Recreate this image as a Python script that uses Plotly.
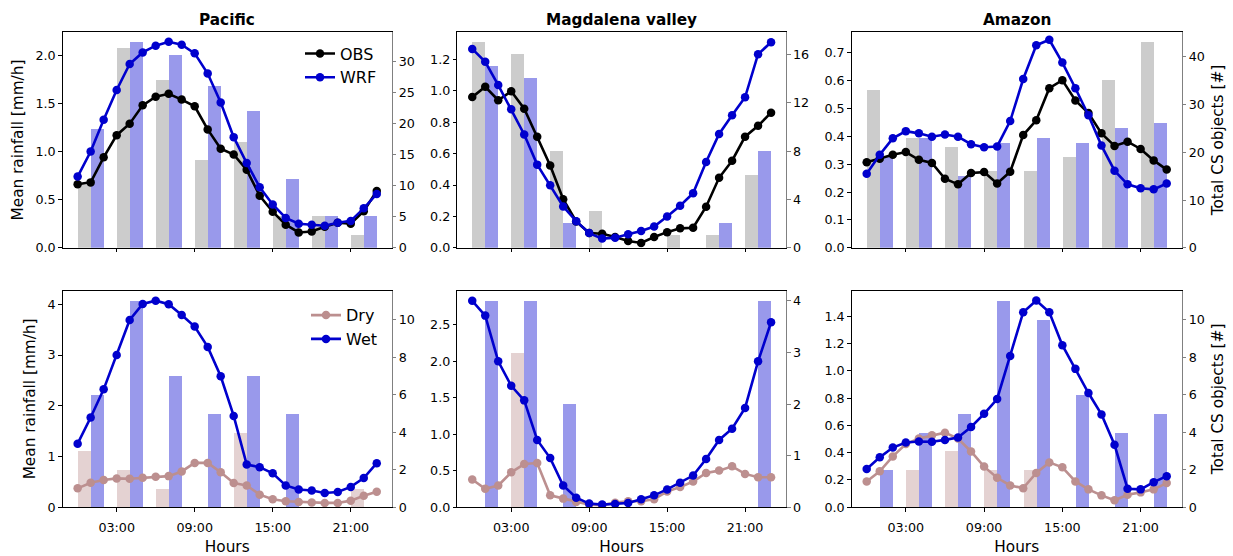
import plotly.graph_objects as go

hours = list(range(24))
bar_hours = [0, 3, 6, 9, 12, 15, 18, 21]
tick_hours = [3, 9, 15, 21]
tick_labels = ["03:00", "09:00", "15:00", "21:00"]
titles = ["Pacific", "Magdalena valley", "Amazon"]

# Top row: OBS / WRF mean rainfall [mm/h]
pac_obs = [0.66, 0.68, 0.94, 1.17, 1.29, 1.48, 1.57, 1.60, 1.54, 1.47, 1.23, 1.03,
           0.97, 0.81, 0.54, 0.375, 0.24, 0.16, 0.17, 0.22, 0.26, 0.25, 0.38, 0.59]
pac_wrf = [0.74, 1.00, 1.33, 1.64, 1.91, 2.03, 2.10, 2.14, 2.11, 2.02, 1.81, 1.51,
           1.15, 0.88, 0.63, 0.45, 0.31, 0.25, 0.24, 0.23, 0.26, 0.28, 0.41, 0.56]
mag_obs = [0.96, 1.026, 0.94, 0.997, 0.886, 0.708, 0.524, 0.31, 0.168, 0.094, 0.09, 0.069,
           0.044, 0.031, 0.069, 0.10, 0.124, 0.128, 0.262, 0.446, 0.555, 0.708, 0.777, 0.861]
mag_wrf = [1.267, 1.185, 1.037, 0.882, 0.722, 0.53, 0.398, 0.264, 0.17, 0.094, 0.059, 0.065,
           0.086, 0.107, 0.136, 0.199, 0.268, 0.348, 0.547, 0.725, 0.844, 0.959, 1.233, 1.309]
ama_obs = [0.307, 0.32, 0.334, 0.344, 0.316, 0.305, 0.248, 0.228, 0.269, 0.272, 0.231, 0.273,
           0.405, 0.458, 0.573, 0.602, 0.529, 0.484, 0.411, 0.366, 0.381, 0.355, 0.314, 0.281]
ama_wrf = [0.266, 0.334, 0.393, 0.419, 0.411, 0.399, 0.407, 0.399, 0.372, 0.361, 0.364, 0.455,
           0.606, 0.727, 0.747, 0.665, 0.573, 0.476, 0.367, 0.277, 0.228, 0.214, 0.21, 0.231]

# Bottom row: Dry / Wet mean rainfall [mm/h]
pac_dry = [0.372, 0.483, 0.535, 0.568, 0.561, 0.581, 0.600, 0.613, 0.705, 0.874, 0.874, 0.69,
           0.476, 0.43, 0.248, 0.157, 0.117, 0.104, 0.091, 0.085, 0.085, 0.13, 0.228, 0.307]
pac_wet = [1.253, 1.768, 2.323, 3.0, 3.69, 4.006, 4.07, 4.0, 3.79, 3.56, 3.16, 2.58,
           1.80, 0.84, 0.79, 0.67, 0.43, 0.35, 0.33, 0.28, 0.30, 0.40, 0.574, 0.868]
mag_dry = [0.38, 0.253, 0.298, 0.479, 0.592, 0.606, 0.163, 0.118, 0.072, 0.036, 0.027, 0.063,
           0.081, 0.081, 0.108, 0.217, 0.276, 0.353, 0.47, 0.502, 0.561, 0.457, 0.411, 0.411]
mag_wet = [2.83, 2.627, 2.0, 1.664, 1.465, 0.922, 0.674, 0.298, 0.131, 0.05, 0.036, 0.045,
           0.059, 0.108, 0.163, 0.244, 0.335, 0.434, 0.66, 0.922, 1.076, 1.361, 2.0, 2.536]
ama_dry = [0.189, 0.264, 0.373, 0.463, 0.504, 0.528, 0.547, 0.504, 0.409, 0.298, 0.216, 0.16,
           0.14, 0.252, 0.329, 0.293, 0.189, 0.131, 0.087, 0.051, 0.092, 0.109, 0.131, 0.177]
ama_wet = [0.281, 0.366, 0.438, 0.475, 0.482, 0.48, 0.494, 0.511, 0.589, 0.685, 0.794, 1.109,
           1.431, 1.516, 1.431, 1.189, 1.015, 0.838, 0.681, 0.458, 0.136, 0.131, 0.184, 0.228]

# Total CS objects [#] (3-hourly bars)
pac_obs_n = [10, 32, 27, 14, 17, 5, 5, 2]
pac_wrf_n = [19, 33, 31, 26, 22, 11, 5, 5]
mag_obs_n = [17, 16, 8, 3, 0, 1, 1, 6]
mag_wrf_n = [15, 14, 2, 0, 0, 0, 2, 8]
ama_obs_n = [33, 23, 21, 16, 16, 19, 35, 43]
ama_wrf_n = [19, 23, 15, 22, 23, 22, 25, 26]
pac_dry_n = [3, 2, 1, 0, 4, 0, 0, 1]
pac_wet_n = [6, 11, 7, 5, 7, 5, 0, 0]
mag_dry_n = [0, 3, 0, 0, 0, 0, 0, 0]
mag_wet_n = [4, 4, 2, 0, 0, 0, 0, 4]
ama_dry_n = [0, 2, 3, 2, 2, 0, 0, 0]
ama_wet_n = [2, 4, 5, 11, 10, 6, 4, 5]

W, H = 1233, 556
FONT = "DejaVu Sans"
BLUE = "#0000CD"
ROSY = "#BC8F8F"

col_dom = [[62.7 / W, 391.7 / W], [457.3 / W, 786.0 / W], [851.7 / W, 1181.7 / W]]
row_dom = [[1 - 251.0 / H, 1 - 32.7 / H], [1 - 513.7 / H, 1 - 294.3 / H]]

panels = [
    # row, col, lineA, lineB, barsA, barsB, names, colA, left dtick, left fmt, right dtick
    (0, 0, pac_obs, pac_wrf, pac_obs_n, pac_wrf_n, ("OBS", "WRF"), "black", 0.5, ".1f", 5),
    (0, 1, mag_obs, mag_wrf, mag_obs_n, mag_wrf_n, ("OBS", "WRF"), "black", 0.2, ".1f", 4),
    (0, 2, ama_obs, ama_wrf, ama_obs_n, ama_wrf_n, ("OBS", "WRF"), "black", 0.1, ".1f", 10),
    (1, 0, pac_dry, pac_wet, pac_dry_n, pac_wet_n, ("Dry", "Wet"), ROSY, 1, "d", 2),
    (1, 1, mag_dry, mag_wet, mag_dry_n, mag_wet_n, ("Dry", "Wet"), ROSY, 0.5, ".1f", 1),
    (1, 2, ama_dry, ama_wet, ama_dry_n, ama_wet_n, ("Dry", "Wet"), ROSY, 0.2, ".1f", 2),
]

bar_col_a = {"black": "rgba(128,128,128,0.4)", ROSY: "rgba(188,143,143,0.4)"}
bar_col_b = "rgba(0,0,205,0.4)"

fig = go.Figure()
layout = {}
tickfont = dict(family=FONT, size=12.7, color="black")
titlefont = dict(family=FONT, size=15.3, color="black")

for k, (r, c, la, lb, ba, bb, names, ca, ldt, lfmt, rdt) in enumerate(panels):
    i = k + 1
    j = k + 7
    xa = "x" if i == 1 else f"x{i}"
    yb = "y" if i == 1 else f"y{i}"
    yl = f"y{j}"
    # bars on right axis (base), lines on left axis (overlaying -> drawn on top)
    fig.add_trace(go.Bar(x=bar_hours, y=ba, width=1, offset=0, marker_color=bar_col_a[ca],
                         marker_line_width=0, showlegend=False, xaxis=xa, yaxis=yb))
    fig.add_trace(go.Bar(x=bar_hours, y=bb, width=1, offset=1, marker_color=bar_col_b,
                         marker_line_width=0, showlegend=False, xaxis=xa, yaxis=yb))
    leg = "legend" if r == 0 else "legend2"
    show = (c == 0)
    fig.add_trace(go.Scatter(x=hours, y=la, mode="lines+markers", name=names[0],
                             line=dict(color=ca, width=2.6), marker=dict(color=ca, size=8.5),
                             showlegend=show, legend=leg, xaxis=xa, yaxis=yl))
    fig.add_trace(go.Scatter(x=hours, y=lb, mode="lines+markers", name=names[1],
                             line=dict(color=BLUE, width=2.6), marker=dict(color=BLUE, size=8.5),
                             showlegend=show, legend=leg, xaxis=xa, yaxis=yl))

    lmax = max(max(la), max(lb))
    lmin = min(min(la), min(lb))
    ltop = lmax + 0.05 * (lmax - lmin)
    rtop = 1.05 * max(max(ba), max(bb))

    layout[f"xaxis{i}"] = dict(
        domain=col_dom[c], anchor=yb, range=[-1.15, 24.15],
        tickmode="array", tickvals=tick_hours, ticktext=tick_labels,
        showticklabels=(r == 1), ticks="outside", ticklen=3.5, tickwidth=1, tickcolor="black",
        ticklabelstandoff=5,
        showline=True, linecolor="black", linewidth=1, mirror=True,
        showgrid=False, zeroline=False, tickfont=tickfont,
        title=dict(text="Hours", font=titlefont, standoff=9) if r == 1 else None,
    )
    layout[f"yaxis{i}"] = dict(
        domain=row_dom[r], anchor=xa, side="right", range=[0, rtop],
        tick0=0, dtick=rdt, tickformat="d",
        ticks="outside", ticklen=3.5, tickwidth=1, tickcolor="#808080",
        showline=True, linecolor="#808080", linewidth=1,
        showgrid=False, zeroline=False, tickfont=tickfont,
        title=dict(text="Total CS objects [#]", font=titlefont, standoff=8) if c == 2 else None,
    )
    layout[f"yaxis{j}"] = dict(
        overlaying=yb, anchor=xa, side="left", range=[0, ltop],
        tick0=0, dtick=ldt, tickformat=lfmt,
        ticks="outside", ticklen=3.5, tickwidth=1, tickcolor="black",
        showline=True, linecolor="black", linewidth=1,
        showgrid=False, zeroline=False, tickfont=tickfont,
        title=dict(text="Mean rainfall [mm/h]", font=titlefont, standoff=8) if c == 0 else None,
    )

annotations = []
for c, t in enumerate(titles):
    annotations.append(dict(text=f"<b>{t}</b>", x=sum(col_dom[c]) / 2, y=1 - 20.0 / H,
                            xref="paper", yref="paper", xanchor="center", yanchor="middle",
                            showarrow=False, font=dict(family=FONT, size=15.3, color="black")))

fig.update_layout(
    width=W, height=H, margin=dict(l=0, r=0, t=0, b=0),
    paper_bgcolor="white", plot_bgcolor="white",
    barmode="overlay", bargap=0,
    font=dict(family=FONT, color="black"),
    annotations=annotations,
    legend=dict(x=300 / W, y=1 - 37.0 / H, xanchor="left", yanchor="top",
                bgcolor="rgba(0,0,0,0)", font=dict(family=FONT, size=16, color="black"),
                tracegroupgap=0),
    legend2=dict(x=306 / W, y=1 - 302.0 / H, xanchor="left", yanchor="top",
                 bgcolor="rgba(0,0,0,0)", font=dict(family=FONT, size=16, color="black"),
                 tracegroupgap=0),
    **layout,
)

fig.write_html("out.html")
